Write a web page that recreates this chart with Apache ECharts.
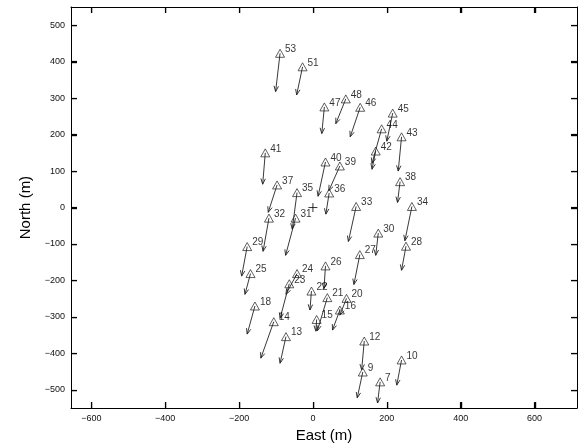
<!DOCTYPE html>
<html>
<head>
<meta charset="utf-8">
<script src="https://cdn.jsdelivr.net/npm/echarts@6/dist/echarts.min.js"></script>
<style>html,body{margin:0;padding:0;background:#fff}#c{width:579px;height:448px}</style>
</head>
<body>
<div id="c"></div>
<script>
// Station ids
const stations = ['53','51','48','47','46','45','44','43','42','41','40','39','38','37','36','35','34','33','32','31','30','29','28','27','26','25','24','23','22','21','20','16','18','15','14','13','12','10','9','7'];
// Station positions (m)
const east  = [-89,-28,89,31,128,216,186,240,170,-129,34,73,236,-97,44,-43,268,117,-119,-47,177,-178,252,127,34,-169,-43,-64,-4,39,91,73,-157,10,-106,-73,139,240,135,182];
const north = [423,386,298,276,275,259,216,194,155,150,125,114,71,62,40,41,3,3,-29,-29,-70,-107,-106,-129,-160,-181,-181,-209,-229,-247,-249,-281,-270,-307,-313,-354,-366,-418,-451,-478];
// Arrow tips (m, plotted scale)
const tipEast  = [-101,-44,62,24,101,200,160,231,160,-136,14,43,229,-121,35,-56,249,96,-135,-74,170,-193,240,111,30,-184,-73,-89,-8,12,73,53,-178,8,-141,-89,132,227,120,175];
const tipNorth = [318,309,230,203,194,182,121,100,105,64,31,46,14,-13,-18,-59,-91,-93,-120,-131,-131,-188,-172,-211,-222,-238,-238,-304,-281,-338,-295,-336,-347,-339,-413,-427,-445,-487,-522,-536];
// Tick labels
const xTicks = [-600,-400,-200,0,200,400,600];
const yTicks = [-500,-400,-300,-200,-100,0,100,200,300,400,500];

const chart = echarts.init(document.getElementById('c'));
const font = 'Liberation Sans, Arial, Helvetica, sans-serif';
const xRange = {min:-655, max:715};
const yRange = {min:-550, max:550};
const fmt = v => (v < 0 ? '\u2212' + Math.abs(v) : String(v));
const axisLine = {show:true, onZero:false, lineStyle:{color:'#000', width:1}};
const TICK = 6;
const tick = vals => ({show:true, inside:true, length:TICK, customValues:vals, lineStyle:{color:'#000', width:1.2}});

const arrowData = stations.map((s,i)=>[east[i], north[i], tipEast[i], tipNorth[i]]);
const stData = stations.map((s,i)=>({name:s, value:[east[i], north[i]]}));

// extra tick marks drawn as thin rects
function tickSeries(data, vertical){
  return {
    type:'custom', xAxisIndex:0, yAxisIndex:0, silent:true, clip:false, z:10,
    data:data,
    renderItem:function(params, api){
      const p = api.coord([api.value(0), api.value(1)]);
      const c0 = api.coord([xRange.min, yRange.min]);
      const c1 = api.coord([xRange.max, yRange.max]);
      const st = {fill:'#000'};
      if (vertical) {
        const x = Math.round(p[0]);
        return {type:'group', children:[
          {type:'rect', shape:{x:x, y:c0[1]-TICK, width:1.2, height:TICK}, style:st},
          {type:'rect', shape:{x:x, y:c1[1], width:1.2, height:TICK}, style:st}
        ]};
      }
      const y = Math.round(p[1]);
      return {type:'group', children:[
        {type:'rect', shape:{x:c0[0], y:y, width:TICK, height:1.2}, style:st},
        {type:'rect', shape:{x:c1[0]-TICK, y:y, width:TICK, height:1.2}, style:st}
      ]};
    }
  };
}

chart.setOption({
  animation:false,
  backgroundColor:'#fff',
  grid:{left:71, right:2, top:7, bottom:38, containLabel:false},
  xAxis:[{
    type:'value', ...xRange, position:'bottom',
    name:'East (m)', nameLocation:'middle', nameGap:14,
    nameTextStyle:{fontFamily:font, fontSize:15, color:'#000'},
    axisLine, splitLine:{show:false},
    axisTick:tick(xTicks),
    axisLabel:{show:true, customValues:xTicks, formatter:fmt, fontFamily:font, fontSize:9, color:'#111', margin:6}
  },{
    type:'value', ...xRange, position:'top',
    axisLine, splitLine:{show:false}, axisTick:tick(xTicks), axisLabel:{show:false}
  }],
  yAxis:[{
    type:'value', ...yRange, position:'left',
    name:'North (m)', nameLocation:'middle', nameGap:25, nameRotate:90,
    nameTextStyle:{fontFamily:font, fontSize:15, color:'#000'},
    axisLine, splitLine:{show:false},
    axisTick:tick(yTicks),
    axisLabel:{show:true, customValues:yTicks, formatter:fmt, fontFamily:font, fontSize:9, color:'#111', margin:6}
  },{
    type:'value', ...yRange, position:'right',
    axisLine, splitLine:{show:false}, axisTick:tick(yTicks), axisLabel:{show:false}
  }],
  series:[
    tickSeries(xTicks.map(v=>[v, 0]), true),
    tickSeries(yTicks.map(v=>[0, v]), false),
  {
    type:'custom',
    xAxisIndex:0, yAxisIndex:0,
    encode:{x:[0,2], y:[1,3]},
    data:arrowData,
    silent:true,
    renderItem:function(params, api){
      const s = api.coord([api.value(0), api.value(1)]);
      const e = api.coord([api.value(2), api.value(3)]);
      const ang = Math.atan2(e[1]-s[1], e[0]-s[0]);
      const hl = 6, ha = 0.38;
      const p1 = [e[0]-hl*Math.cos(ang-ha), e[1]-hl*Math.sin(ang-ha)];
      const p2 = [e[0]-hl*Math.cos(ang+ha), e[1]-hl*Math.sin(ang+ha)];
      const st = {stroke:'#222', lineWidth:0.9, fill:null};
      return {type:'group', children:[
        {type:'line', shape:{x1:s[0], y1:s[1], x2:e[0], y2:e[1]}, style:st},
        {type:'polyline', shape:{points:[p1, e, p2]}, style:st}
      ]};
    }
  },{
    type:'scatter',
    xAxisIndex:0, yAxisIndex:0,
    symbol:'triangle', symbolSize:[9,8],
    itemStyle:{color:'rgba(255,255,255,0)', borderColor:'#222', borderWidth:0.9},
    label:{show:true, formatter:'{b}', position:'right', distance:0, offset:[0,-4], fontFamily:font, fontSize:10, color:'#000'},
    data:stData,
    z:3
  },{
    type:'scatter',
    xAxisIndex:0, yAxisIndex:0,
    symbol:'path://M0,5L10,5M5,0L5,10', symbolSize:9,
    itemStyle:{color:'none', borderColor:'#000', borderWidth:1},
    data:[[0,0]]
  }]
});
</script>
</body>
</html>
